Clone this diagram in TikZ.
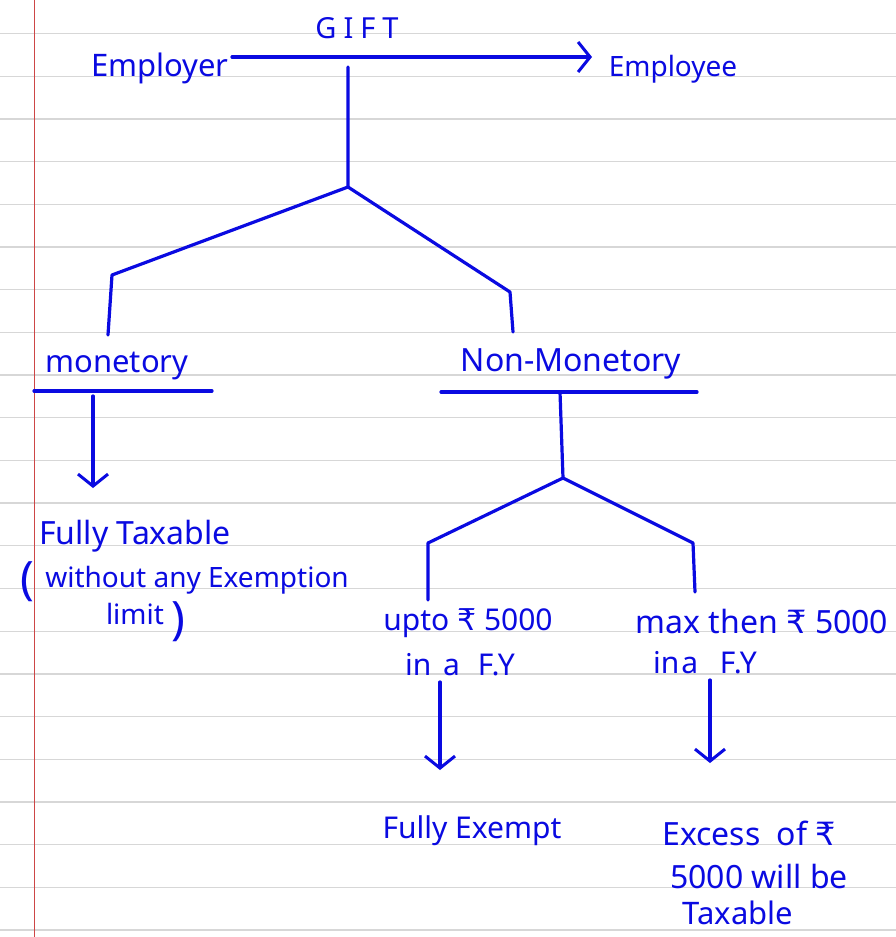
\documentclass[tikz,border=0pt]{standalone}
\usepackage{fontspec}
\setmainfont{Noto Sans}
\newfontfamily\rupeefont{DejaVu Sans}
\newcommand\rupee{{\rupeefont ₹}}
\usetikzlibrary{arrows.meta}
\definecolor{ink}{RGB}{10,10,225}
\definecolor{rulegray}{RGB}{215,215,215}
\definecolor{marginred}{RGB}{205,70,70}
\begin{document}
\begin{tikzpicture}[x=1pt,y=-1pt,
  pen/.style={draw=ink,line width=3.2pt,line cap=round,line join=round},
  hand/.style={text=ink,font=\fontsize{#1}{#1}\selectfont,inner sep=0pt},
  hand/.default=30,
  headtip/.style={-{Straight Barb[length=12pt,width=30pt,line width=3pt]}}]
\useasboundingbox (0,0) rectangle (896,937);
\fill[white] (0,0) rectangle (896,937);
\foreach \k in {0,...,21}
  \draw[rulegray,line width=1.3pt] (0,{33.5+42.69*\k}) -- (896,{33.5+42.69*\k});
\draw[marginred,line width=1pt] (34,0) -- (34,937);

% top
\node[hand=29] (gift) at (357,28) {G\hspace{7pt}I\hspace{7pt}F\hspace{7pt}T};
\node[hand=31] (employer) at (160,68) {Employer};
\node[hand=28] (employee) at (673,69) {Employee};
\coordinate (a0) at (232,57);
\coordinate (a1) at (592,57);
\draw[pen,headtip] (a0) -- (a1);

% tree
\coordinate (t0) at (348,67);
\coordinate (t1) at (348,187);
\coordinate (l1) at (112,275);
\coordinate (l2) at (108,335);
\coordinate (r1) at (510,292);
\coordinate (r2) at (513,332);
\draw[pen] (t0) -- (t1) -- (l1) -- (l2);
\draw[pen] (t1) -- (r1) -- (r2);

% monetory branch
\node[hand=31] (mon) at (117,366) {monetory};
\coordinate (mu0) at (34,391);
\coordinate (mu1) at (212,391);
\draw[pen] (mu0) -- (mu1);
\coordinate (ma0) at (93,396);
\coordinate (ma1) at (93,488);
\draw[pen,headtip] (ma0) -- (ma1);
\node[hand=32] (ft) at (135,536) {Fully Taxable};
\node[hand=46] (lp) at (27,582) {(};
\node[hand=28] (wo) at (197,580) {without any Exemption};
\node[hand=28] (lim) at (135,614) {limit};
\node[hand=46] (rp) at (178,622) {)};

% non-monetory branch
\node[hand=32] (nm) at (571,364) {Non-Monetory};
\coordinate (nu0) at (441,392);
\coordinate (nu1) at (697,392);
\draw[pen] (nu0) -- (nu1);
\coordinate (n0) at (560,392);
\coordinate (n1) at (563,478);
\coordinate (nl1) at (428,543);
\coordinate (nl2) at (428,600);
\coordinate (nr1) at (693,543);
\coordinate (nr2) at (695,592);
\draw[pen] (n0) -- (n1) -- (nl1) -- (nl2);
\draw[pen] (n1) -- (nr1) -- (nr2);

\node[hand=30] (up1) at (468,623) {upto \rupee\ 5000};
\node[hand=30] (up2) at (460,665) {in\hspace{4pt} a\hspace{10pt} F.Y};
\node[hand=32] (mx1) at (762,621) {max then \rupee\ 5000};
\node[hand=30] (mx2) at (705,663) {in\hspace{2pt}a\hspace{14pt} F.Y};

\coordinate (la0) at (440,682);
\coordinate (la1) at (440,770);
\draw[pen,headtip] (la0) -- (la1);
\coordinate (ra0) at (710,680);
\coordinate (ra1) at (710,763);
\draw[pen,headtip] (ra0) -- (ra1);

\node[hand=30] (fe) at (472,831) {Fully Exempt};
\node[hand=32] (ex1) at (749,833) {Excess\hspace{8pt} of\hspace{8pt}\rupee};
\node[hand=32] (ex2) at (759,876) {5000 will be};
\node[hand=31] (ex3) at (738,913) {Taxable};
\end{tikzpicture}
\end{document}
